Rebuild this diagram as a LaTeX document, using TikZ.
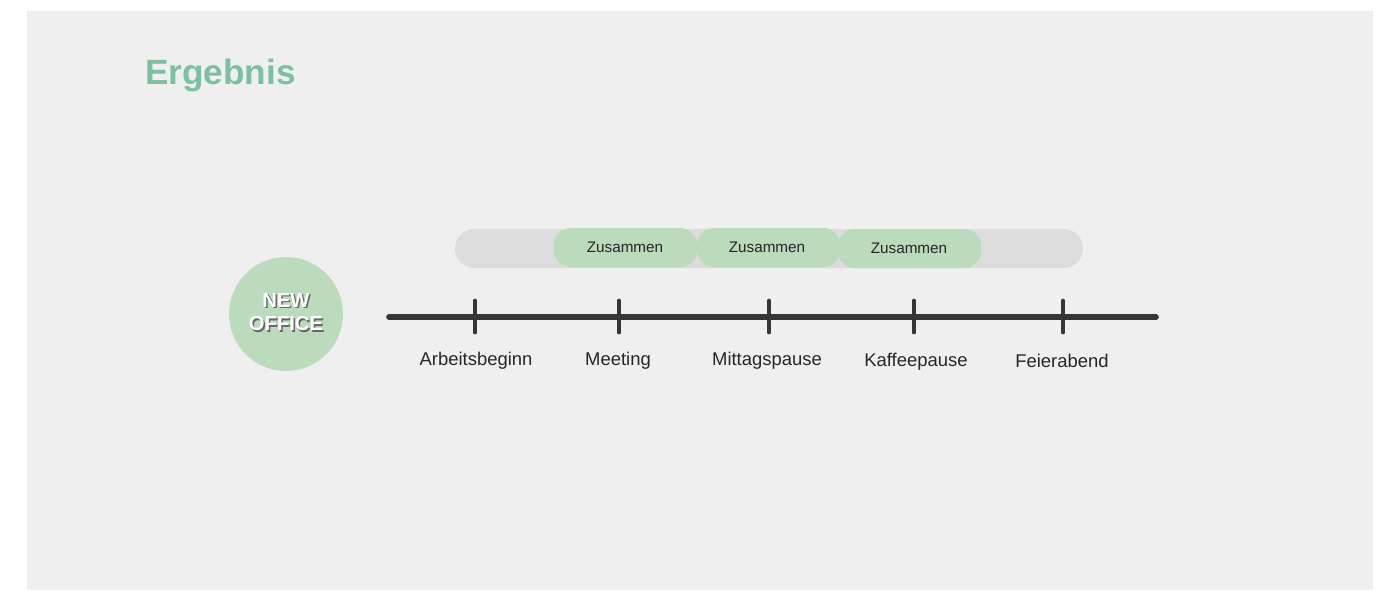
\documentclass[tikz,border=0pt]{standalone}
\usepackage{fontspec}
\setmainfont{Liberation Sans}
\definecolor{panel}{HTML}{EFEFEF}
\definecolor{pillgrey}{HTML}{DCDCDC}
\definecolor{pillgreen}{HTML}{BCDABC}
\definecolor{titlegreen}{HTML}{7CC0A0}
\definecolor{axis}{HTML}{363636}
\begin{document}
\begin{tikzpicture}[x=0.02cm,y=-0.02cm,
  pill/.style={rounded corners=9.5pt,fill=pillgreen},
  lbl/.style={font=\fontsize{10.5pt}{12pt}\selectfont,text=black!85},
  zus/.style={font=\fontsize{8.7pt}{10pt}\selectfont,text=black!85},
  tick/.style={line width=2.8pt,draw=axis,line cap=round}]
\useasboundingbox (0,0) rectangle (1400,600);
\fill[white] (0,0) rectangle (1400,600);
\fill[panel] (27,11) rectangle (1373,590);
\node[anchor=west,font=\bfseries\fontsize{20pt}{24pt}\selectfont,text=titlegreen] (title) at (139,75) {Ergebnis};
\fill[pillgrey,rounded corners=11pt] (455,229) rectangle (1083,268);
\fill[pill] (554,228) rectangle (697,267);
\fill[pill] (697,228) rectangle (840,267);
\fill[pill] (838,229) rectangle (981,268);
\node[zus] (z1) at (625,247) {Zusammen};
\node[zus] (z2) at (767,247) {Zusammen};
\node[zus] (z3) at (909,248) {Zusammen};
\node[circle,fill=pillgreen,minimum size=2.28cm,inner sep=0pt] (office) at (286,314) {};
\node[align=center,font=\bfseries\fontsize{11.5pt}{13.5pt}\selectfont,text=black!60] at (287.5,313.5) {NEW\\OFFICE};
\node[align=center,font=\bfseries\fontsize{11.5pt}{13.5pt}\selectfont,text=white] (officetext) at (286,312) {NEW\\OFFICE};
\coordinate (ls) at (389,317);
\coordinate (le) at (1156,317);
\draw[line width=3.2pt,draw=axis,line cap=round] (ls) -- (le);
\foreach \x/\n/\t in {475/a/Arbeitsbeginn,619/b/Meeting,769/c/Mittagspause,914/d/Kaffeepause,1063/e/Feierabend}{
  \coordinate (t\n1) at (\x,301);
  \coordinate (t\n2) at (\x,332);
  \draw[tick] (t\n1) -- (t\n2);
}
\node[lbl] (la) at (476,361) {Arbeitsbeginn};
\node[lbl] (lb) at (618,361) {Meeting};
\node[lbl] (lc) at (767,361) {Mittagspause};
\node[lbl] (ld) at (916,362) {Kaffeepause};
\node[lbl] (le2) at (1062,361) {Feierabend};
\end{tikzpicture}
\end{document}
